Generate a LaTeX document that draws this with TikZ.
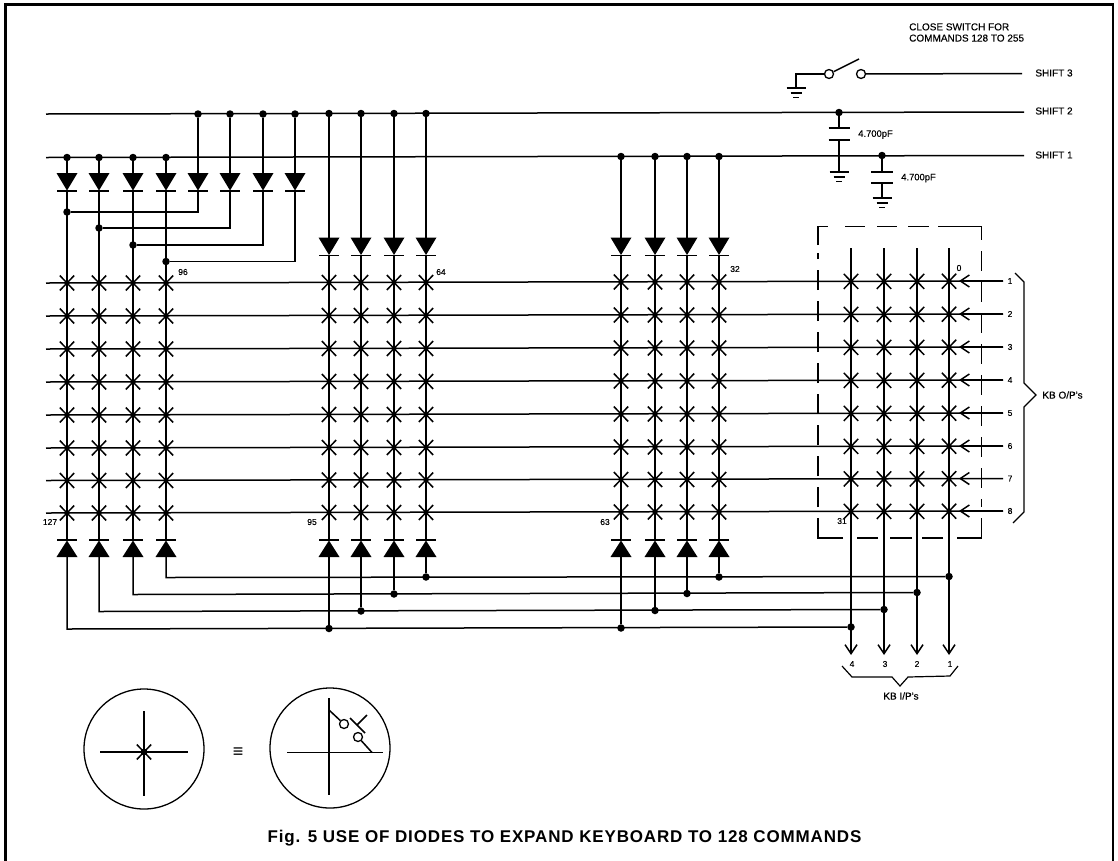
\documentclass[tikz,border=0pt]{standalone}
\usepackage{fontspec}
\setmainfont{Liberation Sans}
\newfontfamily\lablfont[FakeBold=0.3]{Liberation Sans}
\newfontfamily\capfont[LetterSpace=5]{Liberation Sans Bold}
\usepackage{tikz}
\usetikzlibrary{calc}
\usetikzlibrary{arrows.meta}
\tikzset{
  wire/.style={line width=1.5pt},
  thin wire/.style={line width=1.2pt},
  open arrow/.style={line width=1.5pt,-{Straight Barb[length=9pt,width=12pt,line width=1.5pt]}},
  box line/.style={line width=1.4pt},
  junction/.style={shape=circle,draw=none,fill=black,inner sep=0pt,minimum size=7.5pt},
  contact/.style={shape=circle,draw=black,fill=white,line width=1.3pt,inner sep=0pt,minimum size=9pt},
  lablsmall/.style={shape=rectangle,draw=none,fill=none,inner sep=0pt,font=\lablfont\fontsize{8.5}{9}\selectfont},
  labltext/.style={shape=rectangle,draw=none,fill=none,inner sep=0pt,font=\lablfont\fontsize{10}{11.2}\selectfont},
}
% diode pointing down: name, x, top of triangle
\newcommand{\diodedown}[3]{
  \coordinate (#1in) at ( #2 , #3 );
  \coordinate (#1out) at ( #2 , #3 + 18 );
  \fill ( #2 - 10.5 , #3 ) -- ( #2 + 10.5 , #3 ) -- ( #2 , #3 + 17.5 ) -- cycle;
  \draw[wire] ( #2 - 10 , #3 + 18 ) -- ( #2 + 10 , #3 + 18 );}
% diode pointing up: name, x, y of bar
\newcommand{\diodeup}[3]{
  \coordinate (#1out) at ( #2 , #3 );
  \coordinate (#1in) at ( #2 , #3 + 17 );
  \fill ( #2 - 10.5 , #3 + 17 ) -- ( #2 + 10.5 , #3 + 17 ) -- ( #2 , #3 + 0.5 ) -- cycle;
  \draw[wire] ( #2 - 10 , #3 ) -- ( #2 + 10 , #3 );}
\newcommand{\crossing}[2]{
  \draw[wire] ( #1 - 7.2 , #2 - 7.5 ) -- ( #1 + 7.2 , #2 + 7.5 );
  \draw[wire] ( #1 + 7.2 , #2 - 7.5 ) -- ( #1 - 7.2 , #2 + 7.5 );
  \fill ( #1 , #2 ) circle (2.6);}
\newcommand{\crossrow}[1]{
  \crossing{67}{#1} \crossing{99}{#1} \crossing{133}{#1} \crossing{166}{#1}
  \crossing{329}{#1-0.5} \crossing{361}{#1-0.5} \crossing{394}{#1-0.5} \crossing{426}{#1-0.5}
  \crossing{621}{#1-1} \crossing{655}{#1-1} \crossing{687}{#1-1} \crossing{719}{#1-1}
  \crossing{851}{#1-1.6} \crossing{884}{#1-1.6} \crossing{917}{#1-1.6} \crossing{949}{#1-1.8}}
% ground symbol hanging under a point
\newcommand{\earth}[3]{
  \coordinate (#1) at ( #2 , #3 );
  \draw[wire] ( #2 - 9.5 , #3 ) -- ( #2 + 9.5 , #3 );
  \draw[wire] ( #2 - 5.5 , #3 + 5 ) -- ( #2 + 5.5 , #3 + 5 );
  \draw[wire] ( #2 - 3 , #3 + 9.5 ) -- ( #2 + 3 , #3 + 9.5 );}
% keyboard row: number, y
\newcommand{\kbrow}[2]{
  \coordinate (rowl#1) at ( 46 , #2 );
  \node[lablsmall] (rown#1) at ( 1010 , #2 - 2 ) {#1};
  \coordinate (rowe#1) at ( 1003 , #2 - 2 );
  \coordinate (rowt#1) at ( 959 , #2 - 2 );
  \draw[wire] (rowl#1) -- (rowe#1);
  \draw[open arrow] (rowe#1) -- (rowt#1);}

\begin{document}
\begin{tikzpicture}[x=1pt,y=-1pt]
  \useasboundingbox (0,0) rectangle (1118,860);
  % frame
  \draw[line width=2.2pt] (5.5,861) -- (5.5,4.5) -- (1113,4.5) -- (1113,861);
  % shift lines
  \node[labltext] (shift3) at ( 1054 , 73 ) {SHIFT 3};
  \node[labltext] (shift2) at ( 1054 , 111 ) {SHIFT 2};
  \node[labltext] (shift1) at ( 1054 , 155 ) {SHIFT 1};
  \coordinate (s2left) at ( 46 , 114 );
  \coordinate (s1left) at ( 46 , 157.5 );
  \coordinate (s3end) at ( 1022 , 73.5 );
  \coordinate (s2end) at ( 1024 , 112 );
  \coordinate (s1end) at ( 1024 , 155.5 );
  \draw[wire] (s2left) -- (s2end);
  \draw[wire] (s1left) -- (s1end);
  % switch
  \node[labltext,anchor=west,align=left] (closelabl) at ( 909 , 32.5 ) {CLOSE SWITCH FOR\\COMMANDS 128 TO 255};
  \node[contact] (swa) at ( 829 , 74 ) {};
  \node[contact] (swb) at ( 861 , 74 ) {};
  \coordinate (swtop) at ( 859 , 59 );
  \coordinate (swcorner) at ( 796 , 74 );
  \earth{gnd3}{796}{88}
  \draw[wire] (gnd3) -- (swcorner) -- (swa);
  \draw[wire] (swa) -- (swtop);
  \draw[wire] (swb) -- (s3end);
  % capacitors
  \node[junction] (c1top) at ( 839 , 112.5 ) {};
  \node[junction] (c2top) at ( 882 , 155.5 ) {};
  \coordinate (c1a) at ( 839 , 128 );
  \coordinate (c1b) at ( 839 , 140 );
  \coordinate (c2a) at ( 882 , 172 );
  \coordinate (c2b) at ( 882 , 183 );
  \earth{gnd1}{839}{172}
  \earth{gnd2}{882}{198}
  \draw[wire] (c1top) -- (c1a);
  \draw[wire] (c1b) -- (gnd1);
  \draw[wire] (c2top) -- (c2a);
  \draw[wire] (c2b) -- (gnd2);
  \draw[wire] (828.5,128) -- (849.5,128);
  \draw[wire] (828.5,140) -- (849.5,140);
  \draw[wire] (871,172) -- (893,172);
  \draw[wire] (871,183) -- (893,183);
  \node[lablsmall,font=\lablfont\fontsize{9.4}{10}\selectfont] (c1labl) at ( 875.5 , 134.5 ) {4.700pF};
  \node[lablsmall,font=\lablfont\fontsize{9.4}{10}\selectfont] (c2labl) at ( 918.5 , 178 ) {4.700pF};
  % dots on shift 1
  \node[junction] (sa1) at ( 67 , 157.5 ) {};
  \node[junction] (sa2) at ( 99 , 157.5 ) {};
  \node[junction] (sa3) at ( 133 , 157.5 ) {};
  \node[junction] (sa4) at ( 166 , 157.5 ) {};
  \node[junction] (sc1) at ( 621 , 156.5 ) {};
  \node[junction] (sc2) at ( 655 , 156.5 ) {};
  \node[junction] (sc3) at ( 687 , 156.5 ) {};
  \node[junction] (sc4) at ( 719 , 156.5 ) {};
  % dots on shift 2
  \node[junction] (se1) at ( 198 , 114 ) {};
  \node[junction] (se2) at ( 230 , 114 ) {};
  \node[junction] (se3) at ( 263 , 114 ) {};
  \node[junction] (se4) at ( 295 , 114 ) {};
  \node[junction] (sb1) at ( 329 , 113.5 ) {};
  \node[junction] (sb2) at ( 361 , 113.5 ) {};
  \node[junction] (sb3) at ( 394 , 113.5 ) {};
  \node[junction] (sb4) at ( 426 , 113.5 ) {};
  % top diodes
  \diodedown{da1}{67}{173}
  \diodedown{da2}{99}{173}
  \diodedown{da3}{133}{173}
  \diodedown{da4}{166}{173}
  \diodedown{de1}{198}{173}
  \diodedown{de2}{230}{173}
  \diodedown{de3}{263}{173}
  \diodedown{de4}{295}{173}
  \diodedown{db1}{329}{237.5}
  \diodedown{db2}{361}{237.5}
  \diodedown{db3}{394}{237.5}
  \diodedown{db4}{426}{237.5}
  \diodedown{dc1}{621}{237.5}
  \diodedown{dc2}{655}{237.5}
  \diodedown{dc3}{687}{237.5}
  \diodedown{dc4}{719}{237.5}
  % bottom diodes
  \diodeup{ua1}{67}{540}
  \diodeup{ua2}{99}{540}
  \diodeup{ua3}{133}{540}
  \diodeup{ua4}{166}{540}
  \diodeup{ub1}{329}{540}
  \diodeup{ub2}{361}{540}
  \diodeup{ub3}{394}{540}
  \diodeup{ub4}{426}{540}
  \diodeup{uc1}{621}{540}
  \diodeup{uc2}{655}{540}
  \diodeup{uc3}{687}{540}
  \diodeup{uc4}{719}{540}
  % feeds from the shift lines
  \draw[wire] (sa1) -- (da1in);
  \draw[wire] (sa2) -- (da2in);
  \draw[wire] (sa3) -- (da3in);
  \draw[wire] (sa4) -- (da4in);
  \draw[wire] (se1) -- (de1in);
  \draw[wire] (se2) -- (de2in);
  \draw[wire] (se3) -- (de3in);
  \draw[wire] (se4) -- (de4in);
  \draw[wire] (sb1) -- (db1in);
  \draw[wire] (sb2) -- (db2in);
  \draw[wire] (sb3) -- (db3in);
  \draw[wire] (sb4) -- (db4in);
  \draw[wire] (sc1) -- (dc1in);
  \draw[wire] (sc2) -- (dc2in);
  \draw[wire] (sc3) -- (dc3in);
  \draw[wire] (sc4) -- (dc4in);
  % columns
  \draw[wire] (da1out) -- (ua1out);
  \draw[wire] (da2out) -- (ua2out);
  \draw[wire] (da3out) -- (ua3out);
  \draw[wire] (da4out) -- (ua4out);
  \draw[wire] (db1out) -- (ub1out);
  \draw[wire] (db2out) -- (ub2out);
  \draw[wire] (db3out) -- (ub3out);
  \draw[wire] (db4out) -- (ub4out);
  \draw[wire] (dc1out) -- (uc1out);
  \draw[wire] (dc2out) -- (uc2out);
  \draw[wire] (dc3out) -- (uc3out);
  \draw[wire] (dc4out) -- (uc4out);
  % second set of diodes back to the first columns
  \node[junction] (ja1) at ( 67 , 212 ) {};
  \node[junction] (ja2) at ( 99 , 228 ) {};
  \node[junction] (ja3) at ( 133 , 245 ) {};
  \node[junction] (ja4) at ( 166 , 261.5 ) {};
  \draw[wire] (de1out) |- (ja1);
  \draw[wire] (de2out) |- (ja2);
  \draw[wire] (de3out) |- (ja3);
  \draw[wire] (de4out) |- (ja4);
  % rows
  \kbrow{1}{283}
  \kbrow{2}{316}
  \kbrow{3}{349}
  \kbrow{4}{382}
  \kbrow{5}{415}
  \kbrow{6}{448}
  \kbrow{7}{480.5}
  \kbrow{8}{513}
  % crossings
  \crossrow{283}
  \crossrow{316}
  \crossrow{349}
  \crossrow{382}
  \crossrow{415}
  \crossrow{448}
  \crossrow{480.5}
  \crossrow{513}
  % outputs
  \coordinate (ktop1) at ( 949 , 248 );
  \coordinate (ktop2) at ( 917 , 248 );
  \coordinate (ktop3) at ( 884 , 248 );
  \coordinate (ktop4) at ( 851 , 248 );
  \coordinate (kend1) at ( 949 , 655 );
  \coordinate (kend2) at ( 917 , 655 );
  \coordinate (kend3) at ( 884 , 655 );
  \coordinate (kend4) at ( 851 , 655 );
  \draw[open arrow] (ktop1) -- (kend1);
  \draw[open arrow] (ktop2) -- (kend2);
  \draw[open arrow] (ktop3) -- (kend3);
  \draw[open arrow] (ktop4) -- (kend4);
  % return lines
  \coordinate (ba4) at ( 166 , 577.5 );
  \coordinate (ba3) at ( 133 , 594.5 );
  \coordinate (ba2) at ( 99 , 611.5 );
  \coordinate (ba1) at ( 67 , 629 );
  \node[junction] (jb4) at ( 426 , 577 ) {};
  \node[junction] (jc4) at ( 719 , 577 ) {};
  \node[junction] (jd4) at ( 949 , 576.5 ) {};
  \node[junction] (jb3) at ( 394 , 594 ) {};
  \node[junction] (jc3) at ( 687 , 593.5 ) {};
  \node[junction] (jd3) at ( 917 , 592.5 ) {};
  \node[junction] (jb2) at ( 361 , 611 ) {};
  \node[junction] (jc2) at ( 655 , 610.5 ) {};
  \node[junction] (jd2) at ( 884 , 609.5 ) {};
  \node[junction] (jb1) at ( 329 , 628.5 ) {};
  \node[junction] (jc1) at ( 621 , 628 ) {};
  \node[junction] (jd1) at ( 851 , 627 ) {};
  \draw[wire] (ua4in) -- (ba4) -- (jd4);
  \draw[wire] (ua3in) -- (ba3) -- (jd3);
  \draw[wire] (ua2in) -- (ba2) -- (jd2);
  \draw[wire] (ua1in) -- (ba1) -- (jd1);
  \draw[wire] (ub4in) -- (jb4);
  \draw[wire] (uc4in) -- (jc4);
  \draw[wire] (ub3in) -- (jb3);
  \draw[wire] (uc3in) -- (jc3);
  \draw[wire] (ub2in) -- (jb2);
  \draw[wire] (uc2in) -- (jc2);
  \draw[wire] (ub1in) -- (jb1);
  \draw[wire] (uc1in) -- (jc1);
  % dashed box
  \draw[box line] (818,245) -- (818,226.5) -- (828,226.5);
  \draw[box line] (845,226.5) -- (865,226.5);
  \draw[box line] (877,226.5) -- (897,226.5);
  \draw[box line] (908,226.5) -- (929,226.5);
  \draw[box line] (938,226.5) -- (981.5,226.5) -- (981.5,240);
  \draw[box line,dash pattern=on 20pt off 11pt] (981.5,251) -- (981.5,507);
  \draw[box line] (981.5,518) -- (981.5,538) -- (957,538);
  \draw[box line] (943,538) -- (922,538);
  \draw[box line] (912,538) -- (890,538);
  \draw[box line] (878,538) -- (857,538);
  \draw[box line] (843,538) -- (818,538) -- (818,518);
  \draw[box line,dash pattern=on 20pt off 11pt] (818,507) -- (818,253);
  % number labels
  \node[lablsmall] (n96) at ( 183 , 272 ) {96};
  \node[lablsmall] (n64) at ( 441 , 272 ) {64};
  \node[lablsmall] (n32) at ( 735 , 269 ) {32};
  \node[lablsmall] (n0) at ( 959 , 268 ) {0};
  \node[lablsmall] (n127) at ( 50 , 522 ) {127};
  \node[lablsmall] (n95) at ( 312 , 522 ) {95};
  \node[lablsmall] (n63) at ( 605 , 522 ) {63};
  \node[lablsmall] (n31) at ( 842 , 521 ) {31};
  \node[lablsmall] (k4) at ( 852 , 664 ) {4};
  \node[lablsmall] (k3) at ( 885 , 664 ) {3};
  \node[lablsmall] (k2) at ( 917 , 664 ) {2};
  \node[lablsmall] (k1) at ( 950 , 664 ) {1};
  % braces
  \draw[thin wire] (1015,273) -- (1024,282) -- (1024,383) -- (1036,395) -- (1024,407) -- (1024,512) -- (1013,523);
  \draw[thin wire] (842,666) -- (852,677) -- (892,677) -- (900,686) -- (908,677) -- (950,676) -- (958,666);
  \node[labltext] (kbout) at ( 1062.5 , 395 ) {KB O/P's};
  \node[labltext] (kbin) at ( 901 , 696 ) {KB I/P's};
  % key circles
  \draw[line width=1.3pt] (144,749) circle (60);
  \draw[line width=1.3pt] (330,748) circle (60);
  \coordinate (la) at ( 100 , 752 );
  \coordinate (lb) at ( 188 , 752 );
  \coordinate (lc) at ( 144 , 711 );
  \coordinate (ld) at ( 144 , 796 );
  \draw[wire] (la) -- (lb);
  \draw[wire] (lc) -- (ld);
  \crossing{144}{752}
  \fill (144,752) circle (3.5);
  \node[font=\bfseries\fontsize{18}{18}\selectfont,inner sep=0pt] (equiv) at ( 238 , 753 ) {≡};
  \coordinate (ra) at ( 287 , 752.5 );
  \coordinate (rb) at ( 383 , 752.5 );
  \coordinate (rc) at ( 329 , 698 );
  \coordinate (rd) at ( 329 , 795 );
  \draw[wire] (ra) -- (rb);
  \draw[wire] (rc) -- (rd);
  \node[contact] (ka) at ( 344 , 724 ) {};
  \node[contact] (kb) at ( 358 , 737 ) {};
  \coordinate (kc) at ( 329 , 710 );
  \coordinate (kd) at ( 372 , 752.5 );
  \draw[wire] (kc) -- (ka);
  \draw[wire] (kb) -- (kd);
  \draw[wire] (350,718) -- (365,733);
  \draw[wire] (357,725) -- (367,715);
  % caption
  \node[font=\capfont\fontsize{17}{19}\selectfont,inner sep=0pt] (caption) at ( 564.5 , 838 ) {Fig. 5 USE OF DIODES TO EXPAND KEYBOARD TO 128 COMMANDS};
\end{tikzpicture}
\end{document}
